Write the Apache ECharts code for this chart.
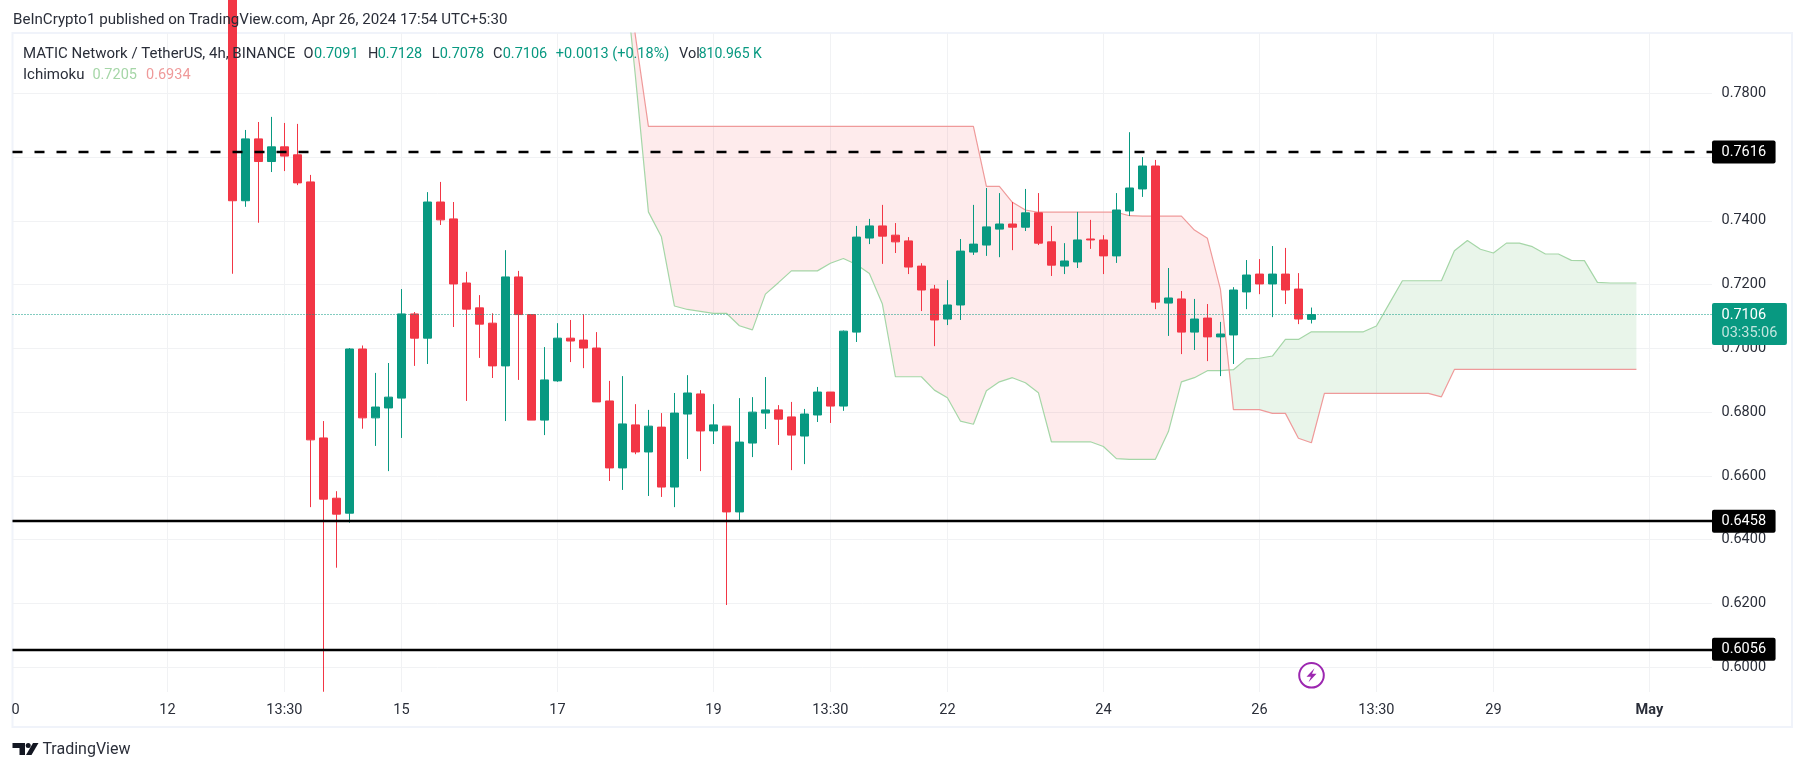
<!DOCTYPE html>
<html>
<head>
<meta charset="utf-8">
<title>MATIC Network / TetherUS, 4h</title>
<style>
  html, body { margin: 0; padding: 0; background: #fff; }
  #main { width: 1805px; height: 771px; }
</style>
<script src="https://cdn.jsdelivr.net/npm/echarts@6/dist/echarts.min.js"></script>
</head>
<body>
<div id="main"></div>
<script>
// candles, x is the bar number (bar 0 is the tall red one cut off by the top edge)
var opens = [
  0.8120, 0.7463, 0.7657, 0.7586, 0.7632, 0.7607, 0.7522, 0.6719, 0.6530, 0.6483,
  0.6998, 0.6782, 0.6813, 0.6844, 0.7108, 0.7032, 0.7459, 0.7406, 0.7205, 0.7127,
  0.7079, 0.6945, 0.7224, 0.7106, 0.6775, 0.6898, 0.7032, 0.7026, 0.7001, 0.6835,
  0.6625, 0.6760, 0.6675, 0.6753, 0.6565, 0.6794, 0.6857, 0.6741, 0.6756, 0.6487,
  0.6703, 0.6797, 0.6807, 0.6785, 0.6725, 0.6791, 0.6863, 0.6819, 0.7051, 0.7346,
  0.7384, 0.7355, 0.7337, 0.7258, 0.7186, 0.7092, 0.7136, 0.7302, 0.7324, 0.7374,
  0.7390, 0.7380, 0.7425, 0.7334, 0.7258, 0.7271, 0.7343, 0.7340, 0.7290, 0.7431,
  0.7500, 0.7572, 0.7142, 0.7155, 0.7051, 0.7095, 0.7036, 0.7042, 0.7177, 0.7233,
  0.7202, 0.7233, 0.7186, 0.7091
];
var closes = [
  0.7463, 0.7657, 0.7586, 0.7632, 0.7603, 0.7519, 0.6713, 0.6527, 0.6480, 0.6998,
  0.6782, 0.6816, 0.6847, 0.7108, 0.7032, 0.7459, 0.7403, 0.7202, 0.7123, 0.7076,
  0.6945, 0.7224, 0.7106, 0.6775, 0.6901, 0.7032, 0.7023, 0.7001, 0.6832, 0.6625,
  0.6763, 0.6675, 0.6756, 0.6565, 0.6797, 0.6860, 0.6741, 0.6760, 0.6487, 0.6706,
  0.6800, 0.6807, 0.6778, 0.6728, 0.6794, 0.6863, 0.6819, 0.7054, 0.7349, 0.7384,
  0.7352, 0.7334, 0.7255, 0.7183, 0.7089, 0.7136, 0.7305, 0.7327, 0.7381, 0.7390,
  0.7380, 0.7425, 0.7330, 0.7261, 0.7274, 0.7340, 0.7340, 0.7290, 0.7434, 0.7503,
  0.7572, 0.7145, 0.7158, 0.7051, 0.7092, 0.7036, 0.7045, 0.7183, 0.7230, 0.7202,
  0.7233, 0.7183, 0.7092, 0.7106
];
var lows = [
  0.7234, 0.7444, 0.7394, 0.7553, 0.7556, 0.7512, 0.6502, 0.5923, 0.6312, 0.6453,
  0.6748, 0.6694, 0.6615, 0.6719, 0.6945, 0.6951, 0.7387, 0.7067, 0.6835, 0.6970,
  0.6907, 0.6772, 0.6901, 0.6775, 0.6728, 0.6895, 0.6957, 0.6938, 0.6832, 0.6584,
  0.6556, 0.6668, 0.6537, 0.6534, 0.6502, 0.6653, 0.6615, 0.6700, 0.6195, 0.6461,
  0.6659, 0.6747, 0.6697, 0.6618, 0.6637, 0.6769, 0.6766, 0.6804, 0.7020, 0.7327,
  0.7265, 0.7299, 0.7233, 0.7117, 0.7007, 0.7073, 0.7089, 0.7293, 0.7290, 0.7286,
  0.7308, 0.7368, 0.7324, 0.7227, 0.7233, 0.7252, 0.7312, 0.7233, 0.7268, 0.7415,
  0.7475, 0.7123, 0.7039, 0.6982, 0.6995, 0.6960, 0.6913, 0.6951, 0.7123, 0.7170,
  0.7098, 0.7139, 0.7076, 0.7078
];
var highs = [
  0.8200, 0.7685, 0.7710, 0.7726, 0.7707, 0.7704, 0.7544, 0.6772, 0.6552, 0.7001,
  0.7009, 0.6923, 0.6954, 0.7186, 0.7114, 0.7490, 0.7522, 0.7459, 0.7240, 0.7167,
  0.7110, 0.7308, 0.7243, 0.7106, 0.7004, 0.7079, 0.7089, 0.7107, 0.7051, 0.6898,
  0.6913, 0.6825, 0.6807, 0.6797, 0.6860, 0.6916, 0.6869, 0.6825, 0.6756, 0.6844,
  0.6847, 0.6910, 0.6822, 0.6832, 0.6810, 0.6879, 0.6863, 0.7056, 0.7384, 0.7406,
  0.7450, 0.7393, 0.7349, 0.7267, 0.7199, 0.7214, 0.7343, 0.7450, 0.7503, 0.7487,
  0.7459, 0.7500, 0.7487, 0.7384, 0.7330, 0.7428, 0.7403, 0.7355, 0.7487, 0.7678,
  0.7600, 0.7591, 0.7252, 0.7180, 0.7155, 0.7139, 0.7083, 0.7192, 0.7277, 0.7280,
  0.7321, 0.7315, 0.7236, 0.7128
];

// ichimoku cloud edges, first value sits on bar 30
var spanStart = 30;
var spanA = [
  0.8250, 0.7854, 0.7428, 0.7350, 0.7133, 0.7122, 0.7116, 0.7110, 0.7110, 0.7071,
  0.7058, 0.7170, 0.7206, 0.7243, 0.7243, 0.7243, 0.7267, 0.7282, 0.7263, 0.7235,
  0.7139, 0.6911, 0.6911, 0.6911, 0.6869, 0.6845, 0.6772, 0.6762, 0.6867, 0.6895,
  0.6908, 0.6892, 0.6861, 0.6707, 0.6707, 0.6707, 0.6707, 0.6692, 0.6654, 0.6652,
  0.6652, 0.6652, 0.6739, 0.6895, 0.6908, 0.6930, 0.6930, 0.6933, 0.6967, 0.6969,
  0.6976, 0.7028, 0.7028, 0.7052, 0.7052, 0.7052, 0.7052, 0.7052, 0.7070, 0.7141,
  0.7212, 0.7212, 0.7212, 0.7212, 0.7306, 0.7338, 0.7311, 0.7299, 0.7330, 0.7330,
  0.7319, 0.7296, 0.7296, 0.7276, 0.7275, 0.7207, 0.7205, 0.7205, 0.7205
];
var spanB = [
  0.8300, 0.7980, 0.7696, 0.7696, 0.7696, 0.7696, 0.7696, 0.7696, 0.7696, 0.7696,
  0.7696, 0.7696, 0.7696, 0.7696, 0.7696, 0.7696, 0.7696, 0.7696, 0.7696, 0.7696,
  0.7696, 0.7696, 0.7696, 0.7696, 0.7696, 0.7696, 0.7696, 0.7696, 0.7508, 0.7508,
  0.7458, 0.7434, 0.7427, 0.7427, 0.7427, 0.7427, 0.7427, 0.7427, 0.7427, 0.7416,
  0.7415, 0.7415, 0.7415, 0.7415, 0.7371, 0.7345, 0.7186, 0.6808, 0.6808, 0.6808,
  0.6796, 0.6796, 0.6718, 0.6704, 0.6859, 0.6859, 0.6859, 0.6859, 0.6859, 0.6859,
  0.6859, 0.6859, 0.6859, 0.6848, 0.6934, 0.6934, 0.6934, 0.6934, 0.6934, 0.6934,
  0.6934, 0.6934, 0.6934, 0.6934, 0.6934, 0.6934, 0.6934, 0.6934, 0.6934
];

// axes
var timeTicks = [-5, 4, 13, 25, 37, 46, 55, 67, 79, 88, 97, 109];
var timeLabels = ['12', '13:30', '15', '17', '19', '13:30', '22', '24', '26', '13:30', '29', 'May'];
var cutLabelBar = -16.68; // the "10" at the left edge is cut down to "0"
var priceTicks = [0.60, 0.62, 0.64, 0.66, 0.68, 0.70, 0.72, 0.74, 0.76, 0.78];

// horizontal levels and last price
var levelSolid = [0.6458, 0.6056];
var levelDashed = 0.7616;
var lastPrice = 0.7106;
var countdown = '03:35:06';

var UP = '#089981', DOWN = '#f23645', TEXT = '#2a2e39', GRID = '#f1f2f4';
var FONT = 'Roboto';

var candleData = opens.map(function (o, i) {
  return [i, o, closes[i], lows[i], highs[i]];
});
var spanAData = spanA.map(function (v, i) { return [i + spanStart, v]; });
var spanBData = spanB.map(function (v, i) { return [i + spanStart, v]; });

// split the cloud where the two edges cross, one polygon per colour
var regions = [];
(function () {
  var cur = null;
  for (var i = 0; i < spanA.length; i++) {
    var up = spanA[i] >= spanB[i];
    if (cur && cur.up !== up) {
      var d0 = spanA[i - 1] - spanB[i - 1], d1 = spanA[i] - spanB[i];
      var t = d0 / (d0 - d1);
      var xc = i - 1 + t + spanStart;
      var yc = spanA[i - 1] + (spanA[i] - spanA[i - 1]) * t;
      cur.a.push([xc, yc]);
      cur.b.push([xc, yc]);
      regions.push(cur);
      cur = { up: up, a: [[xc, yc]], b: [[xc, yc]] };
    }
    if (!cur) cur = { up: up, a: [], b: [] };
    cur.a.push([i + spanStart, spanA[i]]);
    cur.b.push([i + spanStart, spanB[i]]);
  }
  regions.push(cur);
})();

function txt(x, y, s, color, size, weight) {
  return {
    type: 'text', x: x, y: y, z: 20, silent: true,
    style: { text: s, fill: color, font: (weight || 'normal') + ' ' + (size || 14.5) + 'px ' + FONT, textVerticalAlign: 'middle' }
  };
}

var myChart = echarts.init(document.getElementById('main'));

var option = {
  animation: false,
  backgroundColor: '#fff',
  grid: { left: 12.5, right: 93, top: 33, bottom: 79 },
  xAxis: {
    type: 'value',
    min: -16.915,
    max: 113.815,
    axisLine: { show: false },
    axisTick: { show: false, customValues: timeTicks },
    splitLine: { show: true, lineStyle: { color: GRID, width: 1 } },
    axisLabel: {
      customValues: [cutLabelBar].concat(timeTicks),
      color: TEXT,
      fontFamily: FONT,
      fontSize: 14.5,
      margin: 11,
      hideOverlap: false,
      formatter: function (v) {
        if (v === cutLabelBar) return '0';
        var s = timeLabels[timeTicks.indexOf(v)];
        return s === 'May' ? '{b|May}' : s;
      },
      rich: { b: { fontWeight: 'bold', fontFamily: FONT, fontSize: 14.5, color: TEXT } }
    }
  },
  yAxis: {
    type: 'value',
    position: 'right',
    min: 0.59222,
    max: 0.79891,
    axisLine: { show: false },
    axisTick: { show: false, customValues: priceTicks },
    splitLine: { show: true, lineStyle: { color: GRID, width: 1 } },
    axisLabel: {
      customValues: priceTicks,
      color: TEXT,
      fontFamily: FONT,
      fontSize: 14.5,
      margin: 9.5,
      formatter: function (v) { return v.toFixed(4); }
    }
  },
  series: [
    {
      type: 'custom',
      name: 'cloud',
      coordinateSystem: 'cartesian2d',
      clip: true,
      silent: true,
      z: 1,
      data: regions.map(function (r, i) { return [i, 0]; }),
      renderItem: function (params, api) {
        var r = regions[params.dataIndex];
        var pts = r.a.concat(r.b.slice().reverse()).map(function (p) { return api.coord(p); });
        return {
          type: 'polygon',
          shape: { points: pts },
          style: { fill: r.up ? 'rgba(76,175,80,0.12)' : 'rgba(242,54,69,0.10)' }
        };
      }
    },
    {
      type: 'line', name: 'Span A', data: spanAData, showSymbol: false, silent: true, z: 2, clip: true,
      lineStyle: { color: '#a5d6a7', width: 1.2 }
    },
    {
      type: 'line', name: 'Span B', data: spanBData, showSymbol: false, silent: true, z: 2, clip: true,
      lineStyle: { color: '#ef9a9a', width: 1.2 }
    },
    {
      type: 'candlestick',
      name: 'MATICUSDT',
      data: candleData,
      barWidth: 9,
      clip: true,
      z: 3,
      itemStyle: { color: UP, color0: DOWN, borderColor: UP, borderColor0: DOWN, borderWidth: 1 }
    },
    {
      // last price dotted line with its tag
      type: 'line', name: 'last', data: [], z: 4,
      markLine: {
        silent: true, symbol: 'none', animation: false, precision: 5,
        lineStyle: { color: UP, type: [1, 2], width: 1.2 },
        label: {
          show: true, position: 'end', distance: 0, offset: [0, 9.5],
          formatter: function () { return '{a|' + lastPrice.toFixed(4) + '}\n{b|' + countdown + '}'; },
          backgroundColor: UP, borderRadius: 2, padding: [3, 9.5, 3, 9.5],
          rich: {
            a: { color: '#fff', fontFamily: FONT, fontSize: 14.5, lineHeight: 18 },
            b: { color: 'rgba(255,255,255,0.75)', fontFamily: FONT, fontSize: 14.5, lineHeight: 18 }
          }
        },
        data: [{ yAxis: lastPrice }]
      }
    },
    {
      // support and resistance levels
      type: 'line', name: 'levels', data: [], z: 5,
      markLine: {
        silent: true, symbol: 'none', animation: false, precision: 5,
        label: {
          show: true, position: 'end', distance: 0,
          color: '#fff', backgroundColor: '#000', borderRadius: 2,
          fontFamily: FONT, fontSize: 14.5, padding: [4, 9.5, 4, 9.5],
          formatter: function (p) { return p.value.toFixed(4); }
        },
        data: [
          { yAxis: levelDashed, lineStyle: { color: '#000', type: [10, 12], width: 2.4 } },
          { yAxis: levelSolid[0], lineStyle: { color: '#000', type: 'solid', width: 2.4 } },
          { yAxis: levelSolid[1], lineStyle: { color: '#000', type: 'solid', width: 2.4 } }
        ]
      }
    }
  ],
  graphic: [
    // chart frame
    { type: 'rect', z: -1, silent: true, shape: { x: 12.5, y: 33, width: 1779.5, height: 694 },
      style: { fill: 'none', stroke: '#f0f3fa', lineWidth: 2 } },

    txt(13, 20, 'BeInCrypto1 published on TradingView.com, Apr 26, 2024 17:54 UTC+5:30', TEXT, 15.1),

    txt(23, 54, 'MATIC Network / TetherUS, 4h, BINANCE', TEXT, 15),
    txt(303.5, 54, 'O', TEXT), txt(314, 54, '0.7091', UP),
    txt(368, 54, 'H', TEXT), txt(377.7, 54, '0.7128', UP),
    txt(431.7, 54, 'L', TEXT), txt(439.7, 54, '0.7078', UP),
    txt(493, 54, 'C', TEXT), txt(502.7, 54, '0.7106', UP),
    txt(555.8, 54, '+0.0013 (+0.18%)', UP),
    txt(679, 54, 'Vol', TEXT), txt(698.7, 54, '810.965 K', UP, 14),

    txt(23, 75, 'Ichimoku', TEXT, 15),
    txt(92.4, 75, '0.7205', '#a5d6a7'),
    txt(146, 75, '0.6934', '#ef9a9a'),

    // purple lightning mark
    { type: 'circle', z: 20, silent: true, shape: { cx: 1311.5, cy: 675.3, r: 12.3 },
      style: { fill: '#fff', stroke: '#9c27b0', lineWidth: 2 } },
    { type: 'polygon', z: 21, silent: true, x: 1311.5, y: 675.3,
      shape: { points: [[3, -7], [-5, 1.5], [-0.5, 1.5], [-3, 7], [5, -1.5], [0.5, -1.5]] },
      style: { fill: '#9c27b0' } },

    // TradingView logo
    { type: 'polygon', z: 20, silent: true, shape: { points: [[12.5, 743], [25, 743], [25, 755], [19.5, 755], [19.5, 748], [12.5, 748]] }, style: { fill: '#131722' } },
    { type: 'circle', z: 20, silent: true, shape: { cx: 28.2, cy: 745.5, r: 2.5 }, style: { fill: '#131722' } },
    { type: 'polygon', z: 20, silent: true, shape: { points: [[33, 743], [38.5, 743], [31.5, 755], [26, 755]] }, style: { fill: '#131722' } },
    txt(42.4, 749.5, 'TradingView', '#2a2e39', 16)
  ]
};

myChart.setOption(option);
</script>
</body>
</html>
